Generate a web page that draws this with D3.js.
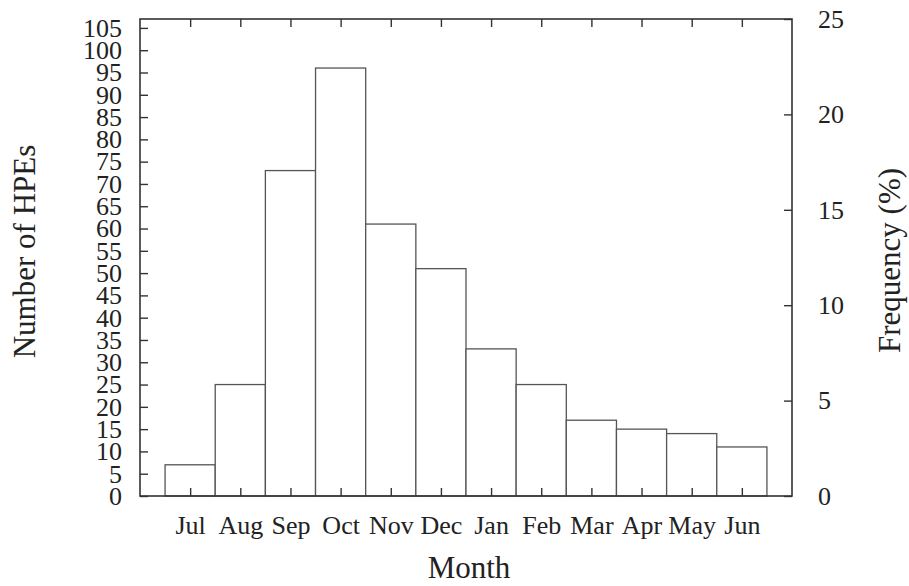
<!DOCTYPE html>
<html>
<head>
<meta charset="utf-8">
<script src="https://cdn.jsdelivr.net/npm/d3@7"></script>
<style>
  html, body { margin: 0; padding: 0; background: #fff; }
  svg { display: block; }
  text { font-family: "Liberation Serif", "Times New Roman", serif; fill: #222; }
</style>
</head>
<body>
<svg id="chart" width="909" height="586"></svg>
<script>
// Monthly counts of HPEs (July through June)
const months = ["Jul","Aug","Sep","Oct","Nov","Dec","Jan","Feb","Mar","Apr","May","Jun"];
const counts = [7, 25, 73, 96, 61, 51, 33, 25, 17, 15, 14, 11];
const countTicks = d3.range(0, 106, 5);
const freqTicks = [0, 5, 10, 15, 20, 25];

const total = d3.sum(counts);

const W = 909, H = 586;
const margin = { left: 140, right: 117, top: 19, bottom: 90 };
const plotW = W - margin.left - margin.right;
const plotH = H - margin.top - margin.bottom;

const svg = d3.select("#chart");
const g = svg.append("g").attr("transform", `translate(${margin.left},${margin.top})`);

// Months sit at integer positions 1..12, with half a slot of padding at each side
const x = d3.scaleLinear().domain([0, months.length + 1]).range([0, plotW]);
// Right axis is percentage of all events; left axis is the matching count
const yR = d3.scaleLinear().domain([0, 25]).range([plotH, 0]);
const yL = d3.scaleLinear().domain([0, total * 25 / 100]).range([plotH, 0]);

const axisColor = "#333";
const tickLen = 8;

// Bars
g.selectAll("rect.bar")
  .data(counts)
  .join("rect")
  .attr("class", "bar")
  .attr("x", (d, i) => x(i + 0.5))
  .attr("width", (d, i) => x(i + 1.5) - x(i + 0.5))
  .attr("y", d => yL(d))
  .attr("height", d => plotH - yL(d))
  .attr("fill", "#fff")
  .attr("stroke", "#555")
  .attr("stroke-width", 1.3);

function styleAxis(sel, fontSize) {
  sel.select(".domain").remove();
  sel.selectAll(".tick line").attr("stroke", axisColor).attr("stroke-width", 1.4);
  sel.selectAll(".tick text").attr("font-size", fontSize).attr("fill", "#222")
     .style("font-family", '"Liberation Serif", "Times New Roman", serif');
}

const monthPos = months.map((m, i) => i + 1);

// Bottom axis with month labels
const bottomAxis = g.append("g")
  .attr("transform", `translate(0,${plotH})`)
  .call(d3.axisBottom(x).tickValues(monthPos).tickFormat((d) => months[d - 1])
        .tickSizeInner(-tickLen).tickSizeOuter(0).tickPadding(20));
styleAxis(bottomAxis, 26);

// Top axis: ticks only
const topAxis = g.append("g")
  .call(d3.axisTop(x).tickValues(monthPos).tickFormat("")
        .tickSizeInner(-tickLen).tickSizeOuter(0));
styleAxis(topAxis, 26);

// Left axis: counts
const leftAxis = g.append("g")
  .call(d3.axisLeft(yL).tickValues(countTicks).tickFormat(d3.format("d"))
        .tickSizeInner(-tickLen).tickSizeOuter(0).tickPadding(18));
styleAxis(leftAxis, 26);

// Right axis: frequency in percent
const rightAxis = g.append("g")
  .attr("transform", `translate(${plotW},0)`)
  .call(d3.axisRight(yR).tickValues(freqTicks).tickFormat(d3.format("d"))
        .tickSizeInner(-tickLen).tickSizeOuter(0).tickPadding(26));
styleAxis(rightAxis, 26);

// Plot frame
g.append("rect")
  .attr("x", 0).attr("y", 0)
  .attr("width", plotW).attr("height", plotH)
  .attr("fill", "none")
  .attr("stroke", axisColor)
  .attr("stroke-width", 1.6);

// Axis titles
svg.append("text")
  .attr("x", margin.left + plotW / 2 + 3)
  .attr("y", 578)
  .attr("text-anchor", "middle")
  .attr("font-size", 31)
  .text("Month");

svg.append("text")
  .attr("transform", `translate(35,${margin.top + plotH / 2 - 6}) rotate(-90)`)
  .attr("text-anchor", "middle")
  .attr("font-size", 31)
  .text("Number of HPEs");

svg.append("text")
  .attr("transform", `translate(900,${margin.top + plotH / 2 + 3}) rotate(-90)`)
  .attr("text-anchor", "middle")
  .attr("font-size", 31)
  .text("Frequency (%)");
</script>
</body>
</html>
